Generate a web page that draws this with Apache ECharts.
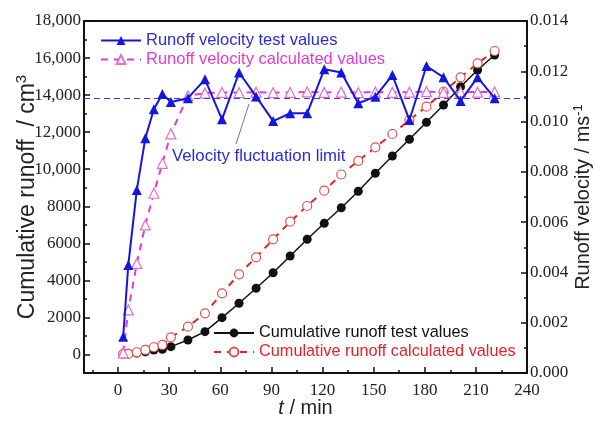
<!DOCTYPE html>
<html>
<head>
<meta charset="utf-8">
<script src="https://cdn.jsdelivr.net/npm/echarts@6/dist/echarts.min.js"></script>
<style>
  html, body { margin: 0; padding: 0; background: #fff; }
  #chart { width: 594px; height: 421px; }
</style>
</head>
<body>
<div id="chart"></div>
<script>
  // time of each measurement (min)
  var times = [3, 6, 11, 16, 21, 26, 31, 41, 51, 61, 71, 81, 91, 101, 111, 121, 131, 141, 151, 161, 171, 181, 191, 201, 211, 221]

  // runoff velocity (m/s)
  var velocityTest = [0.00144, 0.0043, 0.00728, 0.00934, 0.01049, 0.0111, 0.01078, 0.01093, 0.01168, 0.01009, 0.01195, 0.0110, 0.01002,
    0.01033, 0.01033, 0.01208, 0.01195, 0.01073, 0.01099, 0.01185, 0.01006, 0.01221, 0.01176, 0.01082, 0.01176, 0.01093]
  var velocityCalc = [0.0008, 0.00251, 0.00436, 0.00589, 0.00715, 0.00834, 0.00951, 0.01102, 0.01113, 0.01116, 0.01115, 0.01117, 0.01115,
    0.01116, 0.01118, 0.01116, 0.01117, 0.01115, 0.01118, 0.01116, 0.01117, 0.01119, 0.01116, 0.01118, 0.01117, 0.01118]

  // cumulative runoff (cm3)
  var cumTest = [20, 40, 80, 150, 243, 281, 421, 782, 1230, 1986, 2763, 3573, 4414, 5316, 6217, 7080, 7920, 8810,
    9779, 10712, 11614, 12531, 13465, 14452, 15353, 16163]
  var cumCalc = [27, 27, 119, 243, 389, 513, 928, 1500, 2223, 3303, 4328, 5245, 6217, 7167, 8014, 8840, 9714, 10450,
    11182, 11900, 12656, 13373, 14180, 14960, 15715, 16380]

  var velocityLimit = 0.01094

  // tick labels
  var xTicks = [0, 30, 60, 90, 120, 150, 180, 210, 240]
  var xMinorTicks = [-15, 15, 45, 75, 105, 135, 165, 195, 225]
  var yLeftTicks = [0, 2000, 4000, 6000, 8000, 10000, 12000, 14000, 16000, 18000]
  var yLeftMinorTicks = [1000, 3000, 5000, 7000, 9000, 11000, 13000, 15000, 17000]

  function pairs (ys) {
    return times.map(function (t, i) { return [t, ys[i]] })
  }

  var sans = 'Liberation Sans, Arial, sans-serif'
  var serif = 'Liberation Serif, Times New Roman, serif'
  var tickFont = { fontFamily: serif, fontSize: 17, color: '#222' }

  var myChart = echarts.init(document.getElementById('chart'))
  var option = {
    animation: false,
    grid: {
      left: 84, right: 67, top: 21, bottom: 48,
      containLabel: false,
      outerBoundsMode: 'none',
      show: true, borderColor: '#111', borderWidth: 2, backgroundColor: 'transparent'
    },
    legend: [{
      orient: 'vertical',
      left: 95,
      top: 27,
      itemWidth: 40,
      itemHeight: 11,
      itemGap: 2,
      textStyle: { fontFamily: sans, fontSize: 16.5 },
      data: [
        { name: 'Runoff velocity test values', textStyle: { color: '#2a2ad6' } },
        { name: 'Runoff velocity calculated values', textStyle: { color: '#e03ad8' } }
      ]
    }, {
      orient: 'vertical',
      left: 208,
      top: 320,
      itemWidth: 40,
      itemHeight: 11,
      itemGap: 3,
      textStyle: { fontFamily: sans, fontSize: 16.3 },
      data: [
        { name: 'Cumulative runoff test values', textStyle: { color: '#111' } },
        { name: 'Cumulative runoff calculated values', textStyle: { color: '#e8202a' } }
      ]
    }],
    xAxis: [{
      type: 'value',
      min: -20,
      max: 240,
      name: '{i|t} / min',
      nameLocation: 'middle',
      nameGap: 25,
      nameMoveOverlap: false,
      nameTextStyle: {
        fontFamily: sans, fontSize: 20, color: '#222',
        rich: { i: { fontFamily: sans, fontSize: 20, fontStyle: 'italic', color: '#222' } }
      },
      axisLine: { onZero: false, lineStyle: { color: '#111', width: 2 } },
      axisTick: { inside: true, length: 6, customValues: xTicks, lineStyle: { color: '#111', width: 1.5 } },
      axisLabel: { customValues: xTicks, margin: 9, ...tickFont },
      splitLine: { show: false }
    }, {
      type: 'value',
      min: -20,
      max: 240,
      position: 'bottom',
      axisLine: { show: false, onZero: false },
      axisTick: { inside: true, length: 3, customValues: xMinorTicks, lineStyle: { color: '#111', width: 1.5 } },
      axisLabel: { show: false },
      splitLine: { show: false }
    }],
    yAxis: [{
      type: 'value',
      min: -1000,
      max: 18000,
      position: 'left',
      name: '{t|Cumulative runoff  / cm}{s|3}',
      nameLocation: 'middle',
      nameRotate: 90,
      nameGap: 43,
      nameMoveOverlap: false,
      nameTextStyle: {
        rich: {
          t: { fontFamily: sans, fontSize: 23, color: '#222' },
          s: { fontFamily: sans, fontSize: 15, color: '#222', padding: [0, 0, 12, 0] }
        }
      },
      axisLine: { show: true, onZero: false, lineStyle: { color: '#111', width: 2 } },
      axisTick: { show: true, inside: true, length: 6, customValues: yLeftTicks, lineStyle: { color: '#111', width: 1.5 } },
      axisLabel: {
        customValues: yLeftTicks,
        margin: 3,
        ...tickFont,
        formatter: function (v) {
          return v >= 10000 ? String(v).replace(/(\d+)(\d{3})$/, '$1,$2') : String(v)
        }
      },
      splitLine: { show: false }
    }, {
      type: 'value',
      min: 0,
      max: 0.014,
      interval: 0.002,
      position: 'right',
      name: '{t|Runoff velocity / ms}{s|-1}',
      nameLocation: 'middle',
      nameRotate: 90,
      nameGap: 45,
      nameMoveOverlap: false,
      nameTextStyle: {
        rich: {
          t: { fontFamily: sans, fontSize: 20, color: '#222' },
          s: { fontFamily: sans, fontSize: 13, color: '#222', padding: [0, 0, 10, 0] }
        }
      },
      axisLine: { show: true, onZero: false, lineStyle: { color: '#111', width: 2 } },
      axisTick: { show: true, inside: true, length: 6, lineStyle: { color: '#111', width: 1.5 } },
      minorTick: { show: true, splitNumber: 2, length: 3, lineStyle: { color: '#111', width: 1.5 } },
      axisLabel: {
        margin: 3,
        ...tickFont,
        formatter: function (v) { return v.toFixed(3) }
      },
      splitLine: { show: false }
    }, {
      type: 'value',
      min: -1000,
      max: 18000,
      position: 'left',
      axisLine: { show: false, onZero: false },
      axisTick: { show: true, inside: true, length: 3, customValues: yLeftMinorTicks, lineStyle: { color: '#111', width: 1.5 } },
      axisLabel: { show: false },
      splitLine: { show: false }
    }],
    graphic: [{
      type: 'text',
      left: 172,
      top: 148,
      style: { text: 'Velocity fluctuation limit', fill: '#2a2ad6', font: '16.8px ' + sans }
    }, {
      type: 'line',
      shape: { x1: 236, y1: 144, x2: 249, y2: 104 },
      style: { stroke: '#7070b0', lineWidth: 1 }
    }],
    series: [{
      name: 'Cumulative runoff test values',
      type: 'line',
      yAxisIndex: 0,
      data: pairs(cumTest),
      symbol: 'circle',
      symbolSize: 9,
      itemStyle: { color: '#111' },
      lineStyle: { color: '#111', width: 1.5 },
      z: 2
    }, {
      name: 'Cumulative runoff calculated values',
      type: 'line',
      yAxisIndex: 0,
      data: pairs(cumCalc),
      symbol: 'circle',
      symbolSize: 9,
      itemStyle: { color: '#fff', borderColor: '#e05050', borderWidth: 1.2 },
      lineStyle: { color: '#e8202a', width: 2, type: [7, 6] },
      z: 3
    }, {
      name: 'Runoff velocity calculated values',
      type: 'line',
      yAxisIndex: 1,
      data: pairs(velocityCalc),
      symbol: 'triangle',
      symbolSize: 10,
      itemStyle: { color: '#fff', borderColor: '#e070d0', borderWidth: 1.2 },
      lineStyle: { color: '#e03ad8', width: 2, type: [7, 6] },
      z: 4
    }, {
      name: 'Runoff velocity test values',
      type: 'line',
      yAxisIndex: 1,
      data: pairs(velocityTest),
      symbol: 'triangle',
      symbolSize: 10,
      itemStyle: { color: '#1515e0' },
      lineStyle: { color: '#1515e0', width: 2 },
      markLine: {
        silent: true,
        symbol: 'none',
        precision: 6,
        label: { show: false },
        lineStyle: { color: '#3b3bd6', width: 1.2, type: [6, 4] },
        data: [{ yAxis: velocityLimit }]
      },
      z: 5
    }]
  }
  myChart.setOption(option)
</script>
</body>
</html>
